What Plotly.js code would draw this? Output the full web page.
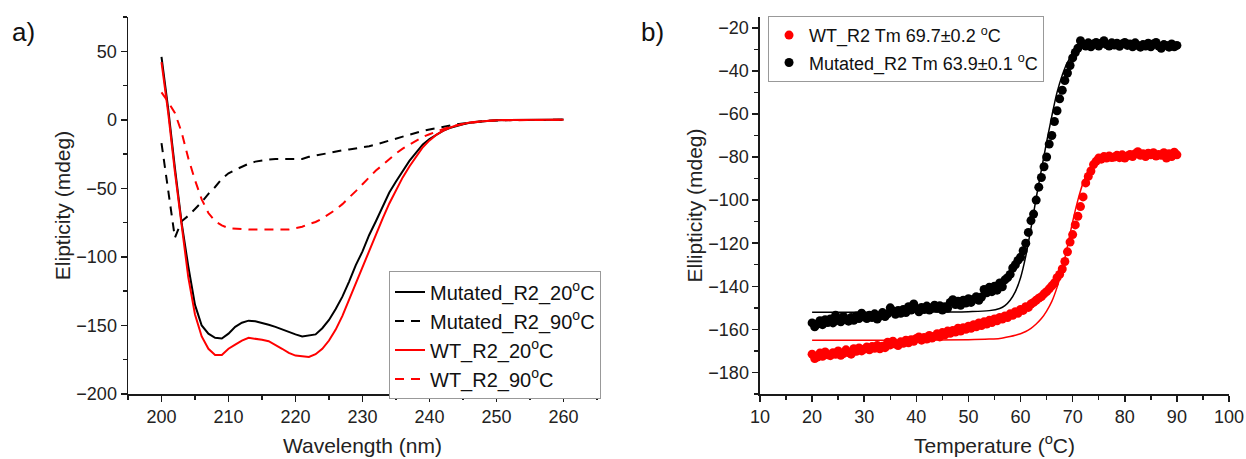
<!DOCTYPE html>
<html>
<head>
<meta charset="utf-8">
<script src="https://cdn.plot.ly/plotly-3.0.1.min.js"></script>
<style>html,body{margin:0;padding:0;background:#fff;}#chart{width:1246px;height:459px;}</style>
</head>
<body>
<div id="chart"></div>
<script>
// ---------- Panel a) CD spectra ----------
const wavelength = [200,201,202,203,204,205,206,207,208,209,210,211,212,213,214,215,216,217,218,219,220,221,222,223,224,225,226,227,228,229,230,231,232,233,234,235,236,237,238,239,240,241,242,243,244,245,246,247,248,249,250,251,252,253,254,255,256,257,258,259,260];
const mutated20 = [46,8,-35,-75,-107,-135,-150,-156,-159,-159.5,-156,-151,-148,-146.5,-147,-148,-149.5,-151,-153,-155,-156.5,-158,-157.5,-156.5,-152,-146,-138,-129,-118,-106,-96,-84,-74,-63,-53,-45,-37,-30,-24,-18,-14,-11,-8,-6,-4.5,-3.2,-2.2,-1.5,-1,-0.6,-0.3,-0.2,0,0.1,-0.1,0,0.1,0,0.1,0,0.2];
const mutated90 = [-17,-50,-86,-74,-70,-65,-60,-54,-49,-43,-39,-36.5,-34,-32,-30.5,-29.5,-29,-28.6,-28.5,-28.6,-28.8,-28.6,-27,-26,-25,-24,-23,-22.3,-21.6,-21,-20.2,-19.3,-18,-16.5,-15,-13.5,-12,-10.5,-9.2,-8,-7,-6,-5,-4.2,-3.4,-2.7,-2,-1.5,-1,-0.7,-0.4,-0.3,-0.1,0,-0.2,0,0.1,-0.1,0,0.1,0];
const wt20 = [42,5,-38,-78,-115,-142,-158,-167,-171.5,-171.5,-167,-164,-161,-159,-159.5,-160.5,-161.5,-164,-167,-170,-172,-172.5,-173,-171,-167,-161,-153,-143,-131,-119,-107,-95,-84,-72,-61,-51,-42,-34,-27,-20,-15,-11,-8,-5.8,-4.2,-3,-2,-1.4,-0.9,-0.5,-0.3,-0.2,-0.1,0,0.1,-0.1,0,0.1,0,0,0.1];
const wt90 = [20,13,5,-9,-28,-44,-58,-68,-74,-77,-79,-79.5,-80,-80,-80,-80,-80,-80.3,-80.5,-80,-79,-78,-76,-74.5,-72,-69,-65.5,-61.5,-57,-52,-47,-42,-37,-33,-28.5,-24.5,-21,-18,-15,-12.5,-10.5,-8.5,-6.8,-5.3,-4,-3,-2.2,-1.6,-1.1,-0.7,-0.4,-0.3,-0.2,-0.1,0,-0.1,0,0,0.1,0,0];
const spectraNames = ["Mutated_R2_20<sup>o</sup>C","Mutated_R2_90<sup>o</sup>C","WT_R2_20<sup>o</sup>C","WT_R2_90<sup>o</sup>C"];

// ---------- Panel b) thermal melts ----------
const temperature = [20,20.5,21,21.5,22,22.5,23,23.5,24,24.5,25,25.5,26,26.5,27,27.5,28,28.5,29,29.5,30,30.5,31,31.5,32,32.5,33,33.5,34,34.5,35,35.5,36,36.5,37,37.5,38,38.5,39,39.5,40,40.5,41,41.5,42,42.5,43,43.5,44,44.5,45,45.5,46,46.5,47,47.5,48,48.5,49,49.5,50,50.5,51,51.5,52,52.5,53,53.5,54,54.5,55,55.5,56,56.5,57,57.5,58,58.5,59,59.5,60,60.5,61,61.5,62,62.5,63,63.5,64,64.5,65,65.5,66,66.5,67,67.5,68,68.5,69,69.5,70,70.5,71,71.5,72,72.5,73,73.5,74,74.5,75,75.5,76,76.5,77,77.5,78,78.5,79,79.5,80,80.5,81,81.5,82,82.5,83,83.5,84,84.5,85,85.5,86,86.5,87,87.5,88,88.5,89,89.5,90];
const wtMelt = [-171.5,-173.5,-172.8,-171.0,-172.5,-170.5,-171.8,-172.2,-170.8,-171.6,-170.0,-172.0,-171.2,-169.5,-170.8,-171.5,-169.0,-170.2,-168.6,-170.0,-169.2,-168.2,-169.5,-168.0,-168.8,-167.5,-169.0,-167.8,-168.5,-166.0,-167.2,-165.5,-166.8,-167.5,-165.8,-166.5,-165.0,-166.2,-164.8,-165.5,-164.2,-163.5,-165.0,-163.8,-164.5,-162.8,-164.0,-163.2,-162.0,-163.5,-161.5,-162.5,-160.8,-161.8,-160.5,-161.2,-159.5,-160.8,-159.2,-160.0,-158.5,-159.5,-157.8,-158.8,-157.0,-158.2,-156.5,-157.5,-155.8,-156.8,-155.2,-156.0,-154.5,-155.2,-153.8,-154.5,-152.8,-153.5,-151.8,-152.5,-150.8,-151.2,-149.5,-149.8,-148.2,-147.5,-146.5,-145.5,-144.8,-143.5,-142.5,-141.2,-139.8,-138.5,-136.0,-134.5,-132.0,-128.5,-124.0,-119.5,-116.0,-111.5,-107.5,-103.0,-98.5,-92.0,-89.0,-86.5,-83.5,-82.0,-80.5,-81.0,-79.8,-80.5,-79.5,-80.2,-80.0,-79.2,-80.3,-79.0,-80.5,-79.5,-78.8,-79.8,-78.5,-77.5,-79.2,-78.5,-79.8,-78.2,-79.0,-78.0,-79.5,-78.8,-79.2,-78.0,-80.5,-78.5,-79.8,-77.8,-79.0];
const mutMelt = [-157.0,-158.8,-157.5,-156.0,-157.8,-155.5,-156.8,-155.2,-157.0,-153.5,-155.8,-156.5,-154.0,-155.5,-156.2,-154.5,-155.8,-153.8,-155.0,-152.5,-154.2,-155.0,-153.5,-154.5,-152.8,-155.2,-153.8,-152.2,-154.0,-152.8,-150.0,-151.5,-153.0,-151.2,-152.5,-150.8,-152.2,-149.5,-151.0,-148.2,-150.5,-151.8,-149.8,-150.8,-149.2,-151.0,-150.0,-148.8,-150.2,-149.0,-151.0,-149.5,-150.2,-147.5,-146.2,-148.5,-147.0,-148.8,-146.5,-147.8,-145.8,-147.5,-146.0,-144.8,-146.5,-145.0,-141.5,-143.0,-140.5,-142.5,-140.0,-141.8,-138.5,-140.2,-137.0,-136.0,-134.5,-131.5,-130.0,-128.0,-126.5,-123.5,-120.0,-115.0,-109.5,-106.5,-100.0,-94.0,-89.5,-84.5,-80.0,-74.0,-70.0,-63.5,-58.5,-53.0,-49.0,-44.5,-41.0,-37.5,-34.0,-31.5,-29.5,-26.0,-27.5,-28.5,-27.0,-28.8,-27.5,-26.8,-28.5,-27.2,-26.0,-27.8,-28.5,-27.0,-28.0,-27.2,-28.6,-27.5,-26.8,-28.2,-27.5,-28.8,-27.0,-28.2,-29.0,-27.8,-28.5,-27.2,-28.8,-27.5,-26.8,-28.5,-29.5,-27.8,-28.2,-29.0,-27.5,-28.8,-28.2];
const fitTemperature = [20,30,40,50,54,56,57,58,59,60,61,62,63,64,65,66,67,68,69,70,71,72,73,74,75,76,78,80,82,86,90];
const mutFit = [-152,-152,-152,-151.8,-151.3,-150.3,-149,-146.5,-142.5,-136,-126,-113,-99,-86,-73,-61,-50,-42,-36,-32.5,-30.3,-29.2,-28.8,-28.6,-28.5,-28.5,-28.4,-28.4,-28.3,-28.3,-28.2];
const wtFit = [-165,-165,-165,-164.8,-164.5,-164.2,-163.8,-163.3,-162.7,-162,-161,-159.5,-157.5,-155,-151.5,-147,-140.5,-132,-121.5,-110,-100,-92,-86.5,-83,-81,-80,-79,-78.5,-78.2,-77.8,-77.5];
const meltNames = ["WT_R2 Tm 69.7\u00B10.2 <sup>o</sup>C","Mutated_R2 Tm 63.9\u00B10.1 <sup>o</sup>C"];

const BLACK = "#000000", RED = "#ff0000";
const FONT = "Arial, 'Liberation Sans', sans-serif";

const traces = [
  {x: wavelength, y: mutated20, name: spectraNames[0], mode: "lines", line: {color: BLACK, width: 2}, xaxis: "x", yaxis: "y", legend: "legend", legendgroup: "a1"},
  {x: wavelength, y: mutated90, name: spectraNames[1], mode: "lines", line: {color: BLACK, width: 2, dash: "9px,7px"}, xaxis: "x", yaxis: "y", legend: "legend", legendgroup: "a2"},
  {x: wavelength, y: wt20, name: spectraNames[2], mode: "lines", line: {color: RED, width: 2}, xaxis: "x", yaxis: "y", legend: "legend", legendgroup: "a3"},
  {x: wavelength, y: wt90, name: spectraNames[3], mode: "lines", line: {color: RED, width: 2, dash: "9px,7px"}, xaxis: "x", yaxis: "y", legend: "legend", legendgroup: "a4"},
  {x: temperature, y: wtMelt, name: meltNames[0], mode: "markers", marker: {color: RED, size: 9}, xaxis: "x2", yaxis: "y2", legend: "legend2", legendgroup: "b1"},
  {x: temperature, y: mutMelt, name: meltNames[1], mode: "markers", marker: {color: BLACK, size: 9}, xaxis: "x2", yaxis: "y2", legend: "legend2", legendgroup: "b2"},
  {x: fitTemperature, y: wtFit, mode: "lines", line: {color: RED, width: 1.5, shape: "spline"}, xaxis: "x2", yaxis: "y2", showlegend: false},
  {x: fitTemperature, y: mutFit, mode: "lines", line: {color: BLACK, width: 1.5, shape: "spline"}, xaxis: "x2", yaxis: "y2", showlegend: false}
];

const axisCommon = {
  showline: true, linecolor: "#1a1a1a", linewidth: 1.5, mirror: false,
  ticks: "outside", ticklen: 6, tickwidth: 1.5, tickcolor: "#1a1a1a",
  showgrid: false, zeroline: false,
  tickfont: {family: FONT, size: 18, color: "#222"},
  automargin: false
};
function ax(extra) { return Object.assign({}, axisCommon, extra); }
const titleFont = {family: FONT, size: 21, color: "#222"};
const minorTicks = {ticklen: 4, tickwidth: 1.5, tickcolor: "#1a1a1a", ticks: "outside"};

const layout = {
  width: 1246, height: 459,
  margin: {l: 0, r: 0, t: 17, b: 65},
  paper_bgcolor: "#fff", plot_bgcolor: "#fff",
  font: {family: FONT, color: "#222"},
  showlegend: true,
  xaxis: ax({domain: [0.10273, 0.47913], range: [195, 265], tick0: 200, dtick: 10, anchor: "y",
    minor: Object.assign({dtick: 5, tick0: 200}, minorTicks),
    title: {text: "Wavelength (nm)", font: titleFont, standoff: 12}}),
  yaxis: ax({domain: [0, 1], range: [-200, 75], dtick: 50, tick0: 0, anchor: "x",
    minor: Object.assign({dtick: 25, tick0: 0}, minorTicks),
    title: {text: "Elipticity (mdeg)", font: titleFont, standoff: 0}}),
  xaxis2: ax({domain: [0.60995, 0.98636], range: [10, 100], tick0: 10, dtick: 10, anchor: "y2",
    minor: Object.assign({dtick: 5, tick0: 10}, minorTicks),
    title: {text: "Temperature (<sup>o</sup>C)", font: titleFont, standoff: 12}}),
  yaxis2: ax({domain: [0, 1], range: [-190, -15], tick0: -180, dtick: 20, anchor: "x2",
    minor: Object.assign({dtick: 10, tick0: -180}, minorTicks),
    title: {text: "Ellipticity (mdeg)", font: titleFont, standoff: 0}}),
  legend: {x: 0.3122, y: 0.325, xanchor: "left", yanchor: "top", bgcolor: "#fff",
    bordercolor: "#999", borderwidth: 1, tracegroupgap: 0,
    font: {family: FONT, size: 20, color: "#111"}},
  legend2: {x: 0.6164, y: 1.003, xanchor: "left", yanchor: "top", bgcolor: "#fff",
    bordercolor: "#999", borderwidth: 1, tracegroupgap: 1,
    font: {family: FONT, size: 18, color: "#111"}},
  annotations: [
    {text: "a)", xref: "paper", yref: "paper", x: 0.008, y: 0.96, xanchor: "left", yanchor: "middle", showarrow: false, font: {family: FONT, size: 26, color: "#111"}},
    {text: "b)", xref: "paper", yref: "paper", x: 0.513, y: 0.96, xanchor: "left", yanchor: "middle", showarrow: false, font: {family: FONT, size: 26, color: "#111"}}
  ]
};

Plotly.newPlot("chart", traces, layout, {staticPlot: true, displayModeBar: false});
</script>
</body>
</html>
